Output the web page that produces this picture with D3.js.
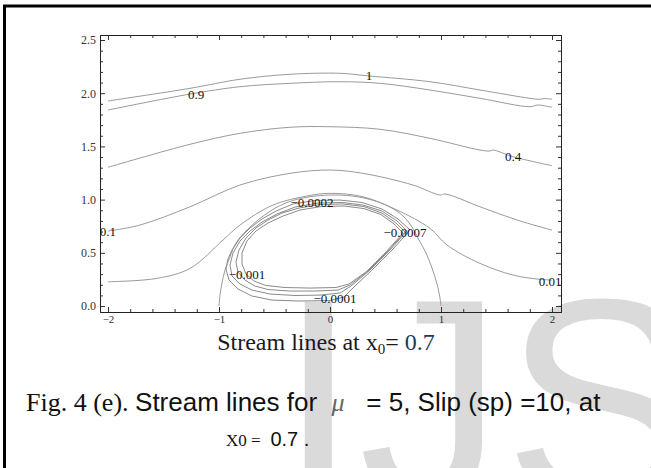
<!DOCTYPE html>
<html>
<head>
<meta charset="utf-8">
<script src="https://cdn.jsdelivr.net/npm/d3@7"></script>
<style>
  html, body { margin: 0; padding: 0; background: #fff; }
  svg { display: block; }
  .pre { white-space: pre; }
</style>
</head>
<body>
<svg id="fig" width="651" height="468"></svg>
<script>
// ---- Stream function level curves, (x, y) pairs in flow coordinates ----
const psi1   = [[-2.0,1.927],[-1.261,2.046],[-0.811,2.131],[-0.360,2.178],[0.090,2.187],[0.351,2.162],[0.901,2.108],[1.351,2.030],[1.802,1.952],[1.892,1.943],[1.937,1.950],[2.0,1.943]];
const psi09  = [[-2.0,1.842],[-1.261,1.992],[-0.811,2.061],[-0.360,2.093],[0.090,2.108],[0.450,2.093],[0.901,2.030],[1.351,1.952],[1.802,1.873],[1.874,1.889],[2.0,1.867]];
const psi04  = [[-2.0,1.304],[-1.261,1.520],[-0.811,1.623],[-0.360,1.680],[0.0,1.685],[0.450,1.661],[0.901,1.576],[1.351,1.466],[1.441,1.457],[1.468,1.466],[1.649,1.403],[2.0,1.319]];
const psi01  = [[-2.0,0.705],[-1.712,0.761],[-1.261,0.933],[-0.811,1.137],[-0.360,1.247],[0.0,1.278],[0.297,1.247],[0.748,1.137],[0.991,1.043],[1.036,1.053],[1.351,0.933],[1.685,0.808],[2.0,0.714]];
const psi001 = [[-2.0,0.228],[-1.559,0.260],[-1.261,0.354],[-0.964,0.620],[-0.811,0.761],[-0.514,0.949],[-0.207,1.034],[0.0,1.059],[0.297,1.027],[0.604,0.902],[0.901,0.730],[1.054,0.573],[1.351,0.401],[1.649,0.291],[1.892,0.251],[2.0,0.244]];

// dividing streamline around the particle
const psi0 = [[-1.0,0.0],[-0.991,0.103],[-0.973,0.216],[-0.946,0.338],[-0.901,0.461],[-0.847,0.592],[-0.757,0.705],[-0.649,0.808],[-0.523,0.902],[-0.378,0.977],[-0.198,1.024],[0.0,1.043],[0.198,1.034],[0.378,0.996],[0.541,0.930],[0.658,0.846],[0.739,0.742],[0.802,0.620],[0.865,0.498],[0.919,0.357],[0.964,0.207],[0.991,0.075],[1.0,0.0]];

// closed recirculation cells (negative ψ)
const cellA = [[0.721,0.714],[0.559,0.526],[0.378,0.338],[0.216,0.179],[0.126,0.085],[0.0,0.052],[-0.270,0.047],[-0.523,0.056],[-0.703,0.094],[-0.829,0.160],[-0.910,0.244],[-0.937,0.348],[-0.919,0.442],[-0.883,0.526],[-0.811,0.639],[-0.721,0.733],[-0.613,0.818],[-0.486,0.893],[-0.333,0.959],[-0.135,0.992],[0.090,0.996],[0.288,0.973],[0.468,0.912],[0.613,0.818],[0.721,0.714]];
const cellB = [[0.694,0.705],[0.532,0.517],[0.360,0.338],[0.189,0.188],[0.090,0.122],[-0.090,0.103],[-0.315,0.099],[-0.541,0.113],[-0.703,0.150],[-0.811,0.207],[-0.883,0.282],[-0.901,0.385],[-0.874,0.498],[-0.811,0.611],[-0.721,0.705],[-0.613,0.789],[-0.477,0.865],[-0.315,0.930],[-0.108,0.968],[0.108,0.973],[0.297,0.949],[0.468,0.893],[0.604,0.799],[0.694,0.705]];
const cellC = [[0.676,0.695],[0.514,0.508],[0.342,0.329],[0.180,0.197],[0.072,0.150],[-0.135,0.141],[-0.360,0.141],[-0.559,0.155],[-0.676,0.188],[-0.766,0.244],[-0.829,0.320],[-0.847,0.414],[-0.820,0.526],[-0.757,0.639],[-0.667,0.733],[-0.559,0.808],[-0.432,0.874],[-0.279,0.921],[-0.090,0.954],[0.117,0.959],[0.306,0.935],[0.468,0.874],[0.595,0.780],[0.676,0.695]];
const cellD = [[0.658,0.686],[0.495,0.498],[0.324,0.320],[0.171,0.207],[0.054,0.174],[-0.180,0.169],[-0.405,0.174],[-0.577,0.193],[-0.685,0.235],[-0.757,0.301],[-0.793,0.395],[-0.793,0.498],[-0.748,0.611],[-0.667,0.705],[-0.559,0.780],[-0.423,0.846],[-0.270,0.902],[-0.081,0.935],[0.126,0.940],[0.306,0.916],[0.459,0.860],[0.577,0.771],[0.658,0.686]];

// contour labels: text and anchor point in flow coordinates
const labelText = ["1", "0.9", "0.4", "0.1", "0.01", "\u22120.0002", "\u22120.0007", "\u22120.001", "\u22120.0001"];
const labelX    = [0.351, -1.207, 1.649, -2.0, 1.982, -0.162, 0.676, -0.748, 0.045];
const labelY    = [2.162, 1.992, 1.403, 0.705, 0.235, 0.977, 0.695, 0.301, 0.075];

// axis ticks
const xMajor = [-2, -1, 0, 1, 2];
const xMinor = [-1.8, -1.6, -1.4, -1.2, -0.8, -0.6, -0.4, -0.2, 0.2, 0.4, 0.6, 0.8, 1.2, 1.4, 1.6, 1.8];
const yMajor = [0, 0.5, 1.0, 1.5, 2.0, 2.5];
const yMinor = [0.1, 0.2, 0.3, 0.4, 0.6, 0.7, 0.8, 0.9, 1.1, 1.2, 1.3, 1.4, 1.6, 1.7, 1.8, 1.9, 2.1, 2.2, 2.3, 2.4];

const svg = d3.select("#fig");

// publisher watermark
svg.append("text")
  .attr("x", 278).attr("y", 501)
  .attr("font-family", "Liberation Sans, Arial, sans-serif")
  .attr("font-size", 290)
  .attr("fill", "#dadada")
  .text("IJS");

// page border
svg.append("path")
  .attr("d", "M4.5,470 V6 H660")
  .attr("fill", "none").attr("stroke", "#000").attr("stroke-width", 3);

const pLeft = 100, pRight = 561, pTop = 35, pBottom = 312;
const x = d3.scaleLinear().domain([-2.072, 2.081]).range([pLeft, pRight]);
const y = d3.scaleLinear().domain([-0.056, 2.547]).range([pBottom, pTop]);

const plot = svg.append("g");
plot.append("clipPath").attr("id", "clip")
  .append("rect").attr("x", pLeft).attr("y", pTop).attr("width", pRight - pLeft).attr("height", pBottom - pTop);

const line = d3.line().x(d => x(d[0])).y(d => y(d[1]));
const smooth = d3.line().x(d => x(d[0])).y(d => y(d[1])).curve(d3.curveCatmullRom.alpha(0.5));

const curves = plot.append("g").attr("clip-path", "url(#clip)")
  .attr("fill", "none").attr("stroke", "#9a9a9a").attr("stroke-width", 1);
[psi1, psi09, psi04, psi01, psi001, psi0].forEach(c => curves.append("path").attr("d", smooth(c)));
[cellA, cellB, cellC, cellD].forEach(c => curves.append("path").attr("d", line(c)).attr("stroke", "#8a8a8a"));

// frame and ticks on all four sides
const tickFont = g => g.selectAll("text")
  .attr("font-family", "Liberation Serif, Times New Roman, serif")
  .attr("fill", "#333");

const axL = plot.append("g").attr("transform", `translate(${pLeft},0)`)
  .call(d3.axisLeft(y).tickValues(yMajor).tickFormat(d3.format(".1f")).tickSizeInner(-5).tickSizeOuter(0).tickPadding(4));
axL.selectAll("text").attr("font-size", 12);
axL.call(tickFont);
plot.append("g").attr("transform", `translate(${pLeft},0)`)
  .call(d3.axisLeft(y).tickValues(yMinor).tickFormat("").tickSizeInner(-3).tickSizeOuter(0));

plot.append("g").attr("transform", `translate(${pRight},0)`)
  .call(d3.axisRight(y).tickValues(yMajor).tickFormat("").tickSizeInner(-5).tickSizeOuter(0));
plot.append("g").attr("transform", `translate(${pRight},0)`)
  .call(d3.axisRight(y).tickValues(yMinor).tickFormat("").tickSizeInner(-3).tickSizeOuter(0));

const axB = plot.append("g").attr("transform", `translate(0,${pBottom})`)
  .call(d3.axisBottom(x).tickValues(xMajor).tickFormat(d3.format("d")).tickSizeInner(-5).tickSizeOuter(0).tickPadding(3));
axB.selectAll("text").attr("font-size", 11);
axB.call(tickFont);
plot.append("g").attr("transform", `translate(0,${pBottom})`)
  .call(d3.axisBottom(x).tickValues(xMinor).tickFormat("").tickSizeInner(-3).tickSizeOuter(0));

plot.append("g").attr("transform", `translate(0,${pTop})`)
  .call(d3.axisTop(x).tickValues(xMajor).tickFormat("").tickSizeInner(-5).tickSizeOuter(0));
plot.append("g").attr("transform", `translate(0,${pTop})`)
  .call(d3.axisTop(x).tickValues(xMinor).tickFormat("").tickSizeInner(-3).tickSizeOuter(0));

plot.selectAll(".domain").attr("stroke", "#222");
plot.selectAll(".tick line").attr("stroke", "#333");

// contour labels
plot.append("g")
  .selectAll("text")
  .data(labelText)
  .join("text")
  .attr("x", (d, i) => x(labelX[i]))
  .attr("y", (d, i) => y(labelY[i]))
  .attr("text-anchor", "middle")
  .attr("dominant-baseline", "central")
  .attr("font-family", "Liberation Serif, Times New Roman, serif")
  .attr("font-size", 13)
  .attr("fill", "#111")
  .text(d => d);

// plot title
const title = svg.append("text")
  .attr("x", 326).attr("y", 350)
  .attr("text-anchor", "middle")
  .attr("font-family", "Liberation Serif, Times New Roman, serif")
  .attr("font-size", 24)
  .attr("fill", "#1a1a1a");
title.append("tspan").text("Stream lines at x");
title.append("tspan").attr("font-size", 15).attr("dy", 4).text("0");
title.append("tspan").attr("dy", -4).text("= ");
title.append("tspan").attr("fill", "#22395f").text("0.7");

// figure caption
const cap = svg.append("text")
  .attr("class", "pre")
  .attr("x", 26).attr("y", 411)
  .attr("font-size", 26)
  .attr("fill", "#111");
cap.append("tspan").attr("font-family", "Liberation Serif, Times New Roman, serif").text("Fig. 4 (e). ");
cap.append("tspan").attr("font-family", "Liberation Sans, Arial, sans-serif").text("Stream lines for  ");
cap.append("tspan").attr("font-family", "Liberation Serif, Times New Roman, serif")
  .attr("font-style", "italic").attr("fill", "#666").text("\u03bc");
cap.append("tspan").attr("font-family", "Liberation Sans, Arial, sans-serif").text("   = 5, Slip (sp) =10, at");

const cap2 = svg.append("text")
  .attr("class", "pre")
  .attr("x", 226).attr("y", 446)
  .attr("fill", "#111");
cap2.append("tspan").attr("font-family", "Liberation Serif, Times New Roman, serif").attr("font-size", 17).text("X0 = ");
cap2.append("tspan").attr("font-family", "Liberation Sans, Arial, sans-serif").attr("font-size", 20).text(" 0.7 .");
</script>
</body>
</html>
